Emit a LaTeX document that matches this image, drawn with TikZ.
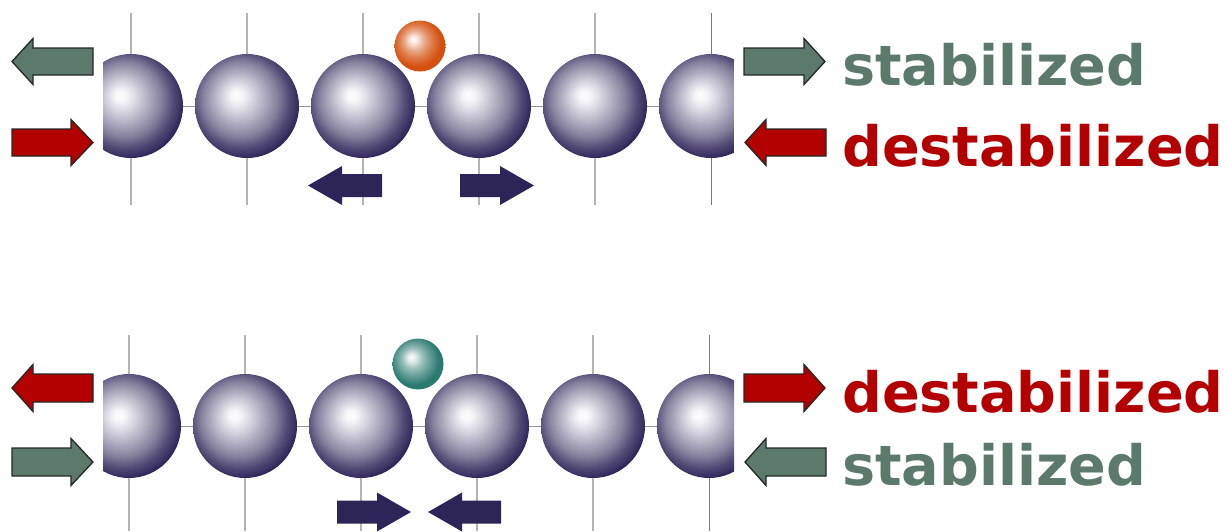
\documentclass[tikz,border=0pt]{standalone}
\usepackage{fontspec}
\setmainfont{DejaVu Sans}
\usetikzlibrary{calc}

\definecolor{stabgreen}{HTML}{5B7A6B}
\definecolor{destred}{HTML}{B30000}
\definecolor{navy}{HTML}{2D2457}
\definecolor{rust}{HTML}{D4500F}
\definecolor{seateal}{HTML}{2B7A70}
\definecolor{gridlight}{HTML}{B4B4B4}
\definecolor{griddark}{HTML}{7A7A7A}

% shaded spheres: highlight up and to the left (path box = inner 50bp square)
\pgfdeclareradialshading{atomshade}{\pgfpoint{-5.3bp}{5.3bp}}{%
  color(0bp)=(white); color(3bp)=(white!95!navy); color(8bp)=(white!78!navy);
  color(13bp)=(white!60!navy); color(18bp)=(white!42!navy); color(23bp)=(white!18!navy);
  color(28bp)=(navy); color(50bp)=(navy)}
\pgfdeclareradialshading{orangeshade}{\pgfpoint{-6.9bp}{6.9bp}}{%
  color(0bp)=(white); color(4bp)=(white!85!rust);
  color(10bp)=(white!50!rust); color(16bp)=(white!25!rust);
  color(24bp)=(rust); color(50bp)=(rust)}
\pgfdeclareradialshading{tealshade}{\pgfpoint{-6.9bp}{6.9bp}}{%
  color(0bp)=(white); color(4bp)=(white!85!seateal);
  color(10bp)=(white!52!seateal); color(16bp)=(white!28!seateal);
  color(24bp)=(seateal); color(50bp)=(seateal)}

\tikzset{
  atom/.style={circle, inner sep=0pt, minimum size=104pt, shading=atomshade},
  dopant/.style={circle, inner sep=0pt, minimum size=51pt},
  vline/.style={draw=gridlight, line width=1.5pt},
  vlinelast/.style={draw=griddark, line width=1pt},
  hline/.style={draw=griddark!80, line width=1pt},
  sidegreen/.style={fill=stabgreen, draw=black!85, line width=1.3pt, line join=miter},
  sidered/.style={fill=destred, draw=black!85, line width=1.3pt, line join=miter},
  pusharrow/.style={fill=navy},
  sidetext/.style={anchor=base west, inner sep=0pt, font=\fontsize{55.6pt}{60pt}\selectfont\bfseries},
}

% block arrow: style, tail x, head-base x, tip x, centre y, shaft half-height, head half-height
\newcommand\blockarrow[7]{%
  \path[#1] (#2,#5-#6) -- (#3,#5-#6) -- (#3,#5-#7) -- (#4,#5)
    -- (#3,#5+#7) -- (#3,#5+#6) -- (#2,#5+#6) -- cycle;}

\begin{document}
\begin{tikzpicture}[x=1pt, y=-1pt]
\useasboundingbox (0,0) rectangle (1225,531);

% ---------- upper chain: larger dopant ----------
\foreach \i in {0,...,4} \draw[vline] (131+116*\i,13) -- (131+116*\i,205);
\draw[vlinelast] (711,13) -- (711,205);
\draw[hline] (103,106.5) -- (733,106.5);
\begin{scope}
  \clip (103,0) rectangle (733.5,531);
  \foreach \i in {1,...,6} \node[atom] (u\i) at (15+116*\i,106) {};
\end{scope}
\node[dopant, shading=orangeshade] (big) at (420,46) {};

\blockarrow{pusharrow}{382}{342}{308}{185.5}{11.5}{19.5}
\blockarrow{pusharrow}{460}{500}{534}{185.5}{11.5}{19.5}

\blockarrow{sidegreen}{93}{33}{12}{61.5}{13.5}{23}
\blockarrow{sidered}{12}{71}{93}{142.5}{13.5}{23}
\blockarrow{sidegreen}{744}{804}{825}{61.5}{13.5}{23}
\blockarrow{sidered}{826}{766}{745}{142.5}{13.5}{23}

\node[sidetext, text=stabgreen] (ustab) at (842,85) {stabilized};
\node[sidetext, text=destred] (udest) at (842,166) {destabilized};

% ---------- lower chain: smaller dopant ----------
\foreach \i in {0,...,4} \draw[vline] (129+116*\i,335) -- (129+116*\i,531);
\draw[vlinelast] (709,335) -- (709,531);
\draw[hline] (103,426.5) -- (733,426.5);
\begin{scope}
  \clip (103,0) rectangle (734,531);
  \foreach \i in {1,...,6} \node[atom] (l\i) at (13+116*\i,426) {};
\end{scope}
\node[dopant, shading=tealshade] (small) at (418,364) {};

\blockarrow{pusharrow}{337}{377}{411}{512}{11.5}{19.5}
\blockarrow{pusharrow}{501}{462}{428}{512}{11.5}{19.5}

\blockarrow{sidered}{93}{33}{12}{388}{14}{23.5}
\blockarrow{sidegreen}{12}{71}{93}{462}{14}{23.5}
\blockarrow{sidered}{744}{804}{825}{388}{14}{23.5}
\blockarrow{sidegreen}{826}{766}{745}{462}{14}{23.5}

\node[sidetext, text=destred] (ldest) at (842,412) {destabilized};
\node[sidetext, text=stabgreen] (lstab) at (842,485) {stabilized};
\end{tikzpicture}
\end{document}
